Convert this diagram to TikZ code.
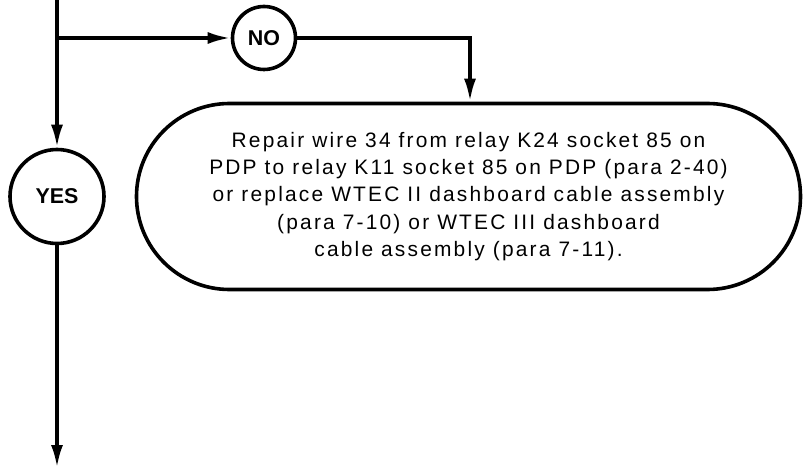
\documentclass[tikz,border=0pt]{standalone}
\usepackage{fontspec}
\setmainfont{Liberation Sans}
\usetikzlibrary{arrows.meta,shapes.misc}

\begin{document}
\begin{tikzpicture}[
    x=1bp, y=-1bp,
    line width=3.6bp,
    flow/.style={-{Latex[length=23bp,width=12bp]}},
    answer/.style={circle, draw, line width=3.6bp, inner sep=0pt,
      font=\bfseries\fontsize{21.5}{26}\selectfont},
    action/.style={rounded rectangle, draw, line width=3.6bp,
      minimum width=664bp, minimum height=186bp, align=center, inner sep=0pt,
      font=\fontsize{21}{27.5}\selectfont\addfontfeatures{LetterSpace=10.5}},
  ]
  \useasboundingbox (0,0) rectangle (805,470);

  % --- Nodes ---
  \coordinate (top) at (57,0);
  \coordinate (split) at (57,38);
  \node[answer, minimum size=63bp] (no) at (264,38) {NO};
  \coordinate (bend) at (470,38);
  \node[action] (repair) at (468.5,196.5) {Repair wire 34 from relay K24 socket 85 on\\
    PDP to relay K11 socket 85 on PDP (para 2-40)\\
    or replace WTEC II dashboard cable assembly\\
    (para 7-10) or WTEC III dashboard\\
    cable assembly (para 7-11).};
  \node[answer, minimum size=94bp] (yes) at (57,196.5) {YES};
  \coordinate (out) at (57,468);

  % --- Connectors ---
  \draw (top) -- (split);
  \draw[flow] (split) -- (no);
  \draw[flow] (no) -- (bend) -- (repair.north -| bend);
  \draw[flow] (split) -- (yes);
  \draw[flow] (yes) -- (out);
\end{tikzpicture}
\end{document}
